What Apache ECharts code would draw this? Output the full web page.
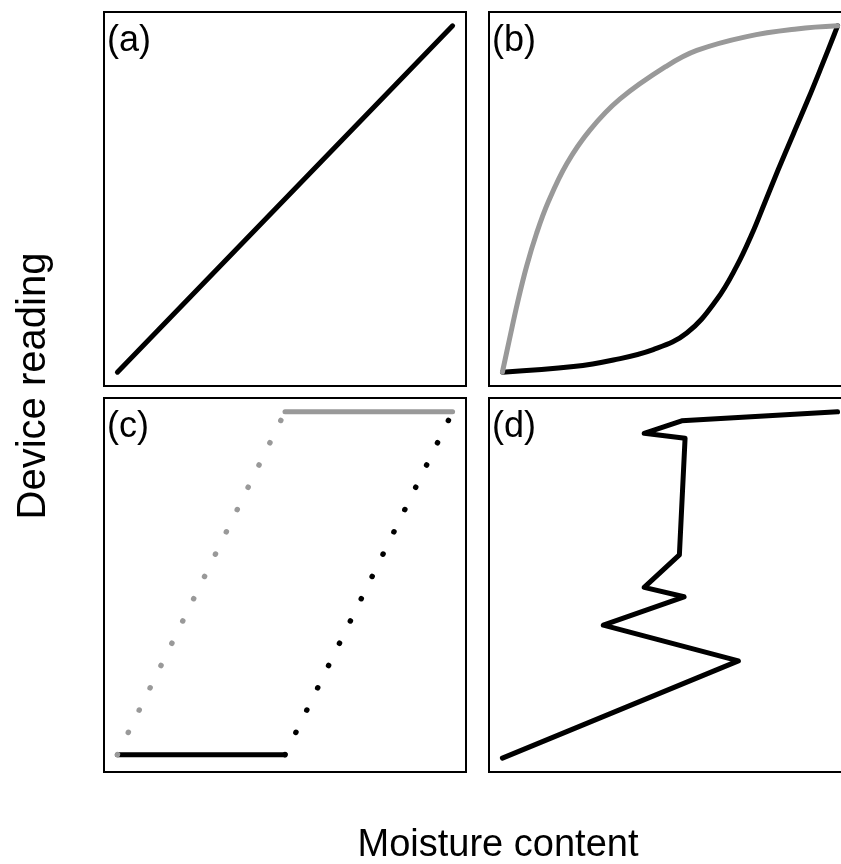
<!DOCTYPE html>
<html>
<head>
<meta charset="utf-8">
<script src="https://cdn.jsdelivr.net/npm/echarts@6/dist/echarts.min.js"></script>
<style>
  html, body { margin: 0; padding: 0; background: #fff; }
  #chart { width: 841px; height: 864px; }
</style>
</head>
<body>
<div id="chart"></div>
<script>
// Panel tags and axis titles
const panelLabels = ['(a)', '(b)', '(c)', '(d)'];
const xTitle = 'Moisture content';
const yTitle = 'Device reading';

// (a) linear response
const aX = [0, 1];
const aY = [0, 1];

// (b) hysteresis loop: wetting (grey) and drying (black) branches
const bGrayX = [0, 0.02, 0.045, 0.072, 0.102, 0.137, 0.192, 0.261, 0.351, 0.490, 0.580, 0.729, 0.878, 1];
const bGrayY = [0, 0.09, 0.200, 0.305, 0.401, 0.492, 0.602, 0.699, 0.789, 0.884, 0.929, 0.969, 0.991, 1];
const bBlackX = [0, 0.212, 0.331, 0.450, 0.550, 0.639, 0.699, 0.744, 0.783, 0.823, 0.868, 0.913, 0.953, 0.990, 1];
const bBlackY = [0, 0.016, 0.035, 0.065, 0.113, 0.209, 0.306, 0.398, 0.490, 0.585, 0.688, 0.790, 0.885, 0.975, 1];

// (c) threshold behaviour: solid plateaus, dotted transitions
const cGraySolidX = [0.5, 1];
const cGraySolidY = [1, 1];
const cGrayDotX = [0, 0.5];
const cGrayDotY = [0.01, 1];
const cBlackSolidX = [0, 0.5];
const cBlackSolidY = [0.01, 0.01];
const cBlackDotX = [0.5, 1];
const cBlackDotY = [0.01, 1];

// (d) erratic response
const dX = [0, 0.704, 0.301, 0.542, 0.423, 0.528, 0.545, 0.423, 0.535, 1];
const dY = [0, 0.281, 0.384, 0.466, 0.493, 0.587, 0.924, 0.938, 0.974, 1];

const BLACK = '#000000';
const GREY = '#999999';

function pairs(xs, ys) {
  return xs.map((x, i) => [x, ys[i]]);
}

const panelBoxes = [
  { left: 104, top: 12 },
  { left: 489, top: 12 },
  { left: 104, top: 398 },
  { left: 489, top: 398 }
];
const boxW = 362, boxH = 374;

const grids = panelBoxes.map(p => ({
  left: p.left, top: p.top, width: boxW, height: boxH,
  show: true, borderColor: '#000', borderWidth: 2, backgroundColor: 'transparent',
  containLabel: false,
  outerBoundsMode: 'none'
}));

const axisBase = {
  type: 'value', min: -0.04, max: 1.04,
  axisLine: { show: false }, axisTick: { show: false },
  axisLabel: { show: false }, splitLine: { show: false }
};
const xAxes = panelBoxes.map((_, i) => Object.assign({ gridIndex: i }, axisBase));
const yAxes = panelBoxes.map((_, i) => Object.assign({ gridIndex: i }, axisBase));

function lineSeries(panel, xs, ys, color, opts) {
  opts = opts || {};
  return {
    type: 'line',
    xAxisIndex: panel, yAxisIndex: panel,
    data: pairs(xs, ys),
    showSymbol: false,
    symbol: 'none',
    smooth: opts.smooth || false,
    clip: false,
    silent: true,
    lineStyle: {
      color: color,
      width: opts.width || 5,
      type: opts.dash || 'solid',
      cap: 'round',
      join: 'round'
    },
    z: opts.z || 2
  };
}

const dots = [0.1, 24.7];

const series = [
  lineSeries(0, aX, aY, BLACK),
  lineSeries(1, bBlackX, bBlackY, BLACK, { smooth: 0.4 }),
  lineSeries(1, bGrayX, bGrayY, GREY, { smooth: 0.4, z: 3 }),
  lineSeries(2, cBlackSolidX, cBlackSolidY, BLACK),
  lineSeries(2, cBlackDotX, cBlackDotY, BLACK, { dash: dots, width: 5.5 }),
  lineSeries(2, cGrayDotX, cGrayDotY, GREY, { dash: dots, width: 5.5, z: 3 }),
  lineSeries(2, cGraySolidX, cGraySolidY, GREY, { z: 3 }),
  lineSeries(3, dX, dY, BLACK)
];

const labelFont = '36px "Liberation Sans", Arial, sans-serif';
const xTitleFont = '38px "Liberation Sans", Arial, sans-serif';
const yTitleFont = '40px "Liberation Sans", Arial, sans-serif';

const graphics = panelBoxes.map((p, i) => ({
  type: 'text',
  x: p.left + 3,
  y: p.top + 29,
  z: 10,
  style: {
    text: panelLabels[i], font: labelFont, fill: '#000',
    align: 'left', verticalAlign: 'middle',
    textAlign: 'left', textVerticalAlign: 'middle'
  }
}));
graphics.push({
  type: 'text', x: 498, y: 846, z: 10,
  style: {
    text: xTitle, font: xTitleFont, fill: '#000',
    align: 'center', verticalAlign: 'middle',
    textAlign: 'center', textVerticalAlign: 'middle'
  }
});
graphics.push({
  type: 'text', x: 34, y: 386, z: 10, rotation: Math.PI / 2,
  style: {
    text: yTitle, font: yTitleFont, fill: '#000',
    align: 'center', verticalAlign: 'middle',
    textAlign: 'center', textVerticalAlign: 'middle'
  }
});

const chart = echarts.init(document.getElementById('chart'), null, { renderer: 'canvas' });
chart.setOption({
  animation: false,
  backgroundColor: '#ffffff',
  grid: grids,
  xAxis: xAxes,
  yAxis: yAxes,
  series: series,
  graphic: graphics
});
</script>
</body>
</html>
